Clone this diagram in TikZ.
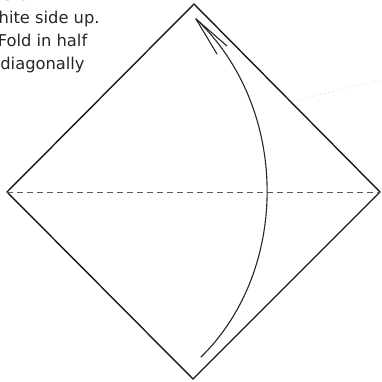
\documentclass[tikz,border=0pt]{standalone}
\usepackage{fontspec}
\setmainfont{DejaVu Sans}
\begin{document}
\begin{tikzpicture}[x=1pt,y=-1pt,
  edge/.style={line width=1.4pt,black!90,line join=miter},
  crease/.style={line width=0.9pt,black!65,dash pattern=on 6pt off 4pt},
  arrowline/.style={line width=1.1pt,black!85,line cap=round},
  faint/.style={line width=0.6pt,black!20,dash pattern=on 1pt off 3pt},
  caption/.style={text=black!85,font=\fontsize{16.3}{23}\selectfont,align=center,inner sep=0pt}]
\useasboundingbox (0,0) rectangle (381,382);
\begin{scope}
\clip (0,0) rectangle (381,382);
\coordinate (T) at (194,4);
\coordinate (L) at (7,192);
\coordinate (R) at (380,192);
\coordinate (B) at (193,379);
\draw[edge] (T) -- (R) -- (B) -- (L) -- cycle;
\draw[crease] (L) -- (R);
\coordinate (S) at (201,357);
\coordinate (A) at (196,19);
\coordinate (b1) at (227,46);
\coordinate (b2) at (217,54);
\draw[arrowline] (S) .. controls (290,270) and (290,108) .. (A);
\draw[arrowline] (A) -- (b1);
\draw[arrowline] (A) -- (b2);
\coordinate (f1) at (293,101);
\coordinate (f2) at (381,80);
\draw[faint] (f1) -- (f2);
\node[caption,anchor=base] (txt) at (42.5,69.5) {Start with\\white side up.\\Fold in half\\diagonally};
\end{scope}
\end{tikzpicture}
\end{document}
